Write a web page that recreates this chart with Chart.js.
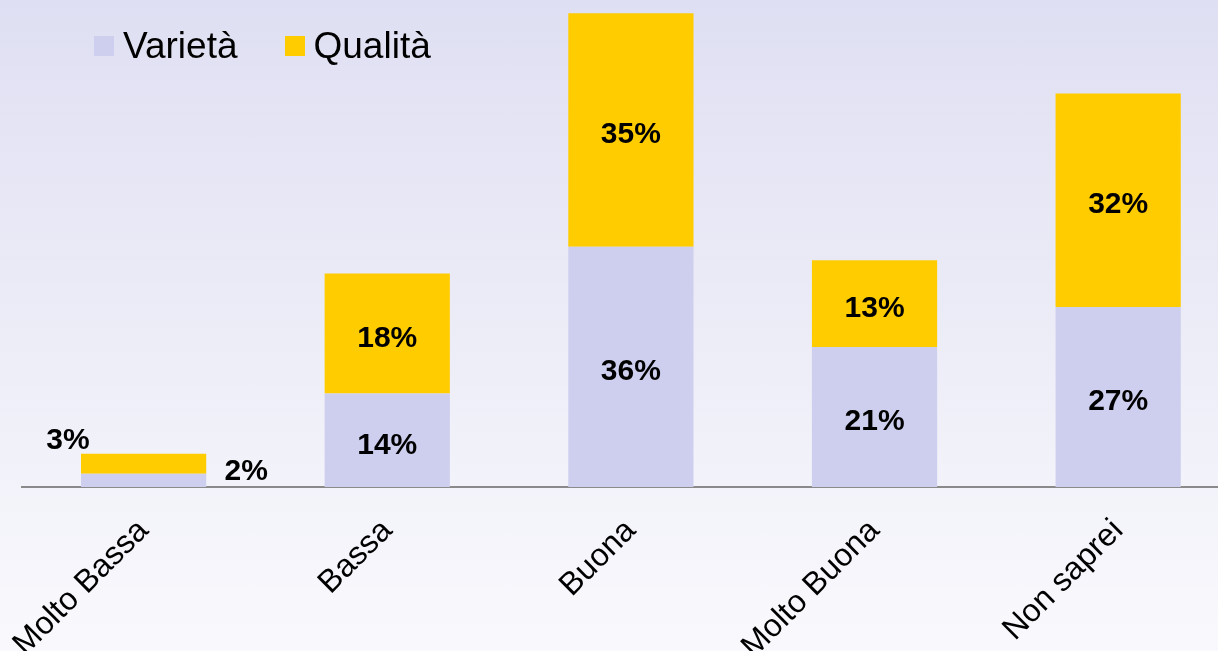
<!DOCTYPE html>
<html>
<head>
<meta charset="utf-8">
<script src="https://cdn.jsdelivr.net/npm/chart.js@4/dist/chart.umd.min.js"></script>
<style>
  html, body { margin: 0; padding: 0; width: 1218px; height: 651px; overflow: hidden; }
  body { background: linear-gradient(to bottom, #dfdff3 0%, #ebebf7 45%, #f9f9fd 100%); font-family: "Liberation Sans", Arial, sans-serif; }
  #wrap { position: relative; width: 1240px; height: 651px; }
  #legend { position: absolute; left: 94px; top: 25px; font-size: 37px; color: #000; display: flex; align-items: center; }
  #legend span.item { display: flex; align-items: center; margin-right: 47px; }
  #legend span.box { display: inline-block; width: 20px; height: 20px; margin-right: 9px; }
</style>
</head>
<body>
<div id="wrap">
  <canvas id="chart" width="1240" height="651"></canvas>
  <div id="legend"></div>
</div>
<script>
// Categories and values (percent)
const categories = ['Molto Bassa', 'Bassa', 'Buona', 'Molto Buona', 'Non saprei'];
const varieta = [2, 14, 36, 21, 27];
const qualita = [3, 18, 35, 13, 32];
const seriesNames = ['Varietà', 'Qualità'];
const seriesColors = ['#cecfee', '#ffcc00'];

document.addEventListener('DOMContentLoaded', function() {
    // Labels in the middle of each segment (first bar has them outside)
    const valueLabels = {
        id: 'valueLabels',
        afterDatasetsDraw(chart) {
            const ctx = chart.ctx;
            ctx.save();
            ctx.font = 'bold 30px "Liberation Sans", Arial, sans-serif';
            ctx.fillStyle = '#000';
            ctx.textAlign = 'center';
            ctx.textBaseline = 'middle';
            chart.data.datasets.forEach((ds, di) => {
                const meta = chart.getDatasetMeta(di);
                meta.data.forEach((bar, i) => {
                    const text = ds.data[i] + '%';
                    let x = bar.x, y = (bar.y + bar.base) / 2 + 5;
                    if (i === 0) {
                        const half = bar.width / 2;
                        if (di === 0) { x = bar.x + half + 40; y = bar.base - 15; }
                        else { x = bar.x - half - 13; y = bar.y - 13; }
                    }
                    ctx.fillText(text, x, y);
                });
            });
            ctx.restore();
        }
    };

    const chart = new Chart(document.getElementById('chart').getContext('2d'), {
        type: 'bar',
        data: {
            labels: categories,
            datasets: [
                { label: seriesNames[0], data: varieta, backgroundColor: seriesColors[0] },
                { label: seriesNames[1], data: qualita, backgroundColor: seriesColors[1] }
            ]
        },
        options: {
            responsive: false,
            animation: false,
            layout: { padding: { left: 21, top: 0, right: 0, bottom: 0 } },
            datasets: { bar: { categoryPercentage: 1, barPercentage: 0.514 } },
            plugins: {
                legend: { display: false },
                tooltip: { enabled: false }
            },
            scales: {
                x: {
                    stacked: true,
                    grid: { display: false },
                    border: { display: true, color: '#8a8a8a', width: 2 },
                    ticks: {
                        color: '#000',
                        minRotation: 45,
                        maxRotation: 45,
                        padding: 17,
                        font: { family: '"Liberation Sans", Arial, sans-serif', size: 32 }
                    },
                    afterFit(scale) { scale.height = 164; }
                },
                y: {
                    stacked: true,
                    display: false,
                    min: 0,
                    max: 73
                }
            }
        },
        plugins: [valueLabels]
    });

    // Legend as html text
    const legend = document.getElementById('legend');
    chart.data.datasets.forEach(ds => {
        const item = document.createElement('span');
        item.className = 'item';
        item.innerHTML = '<span class="box" style="background:' + ds.backgroundColor + '"></span>' + ds.label;
        legend.appendChild(item);
    });
});
</script>
</body>
</html>
